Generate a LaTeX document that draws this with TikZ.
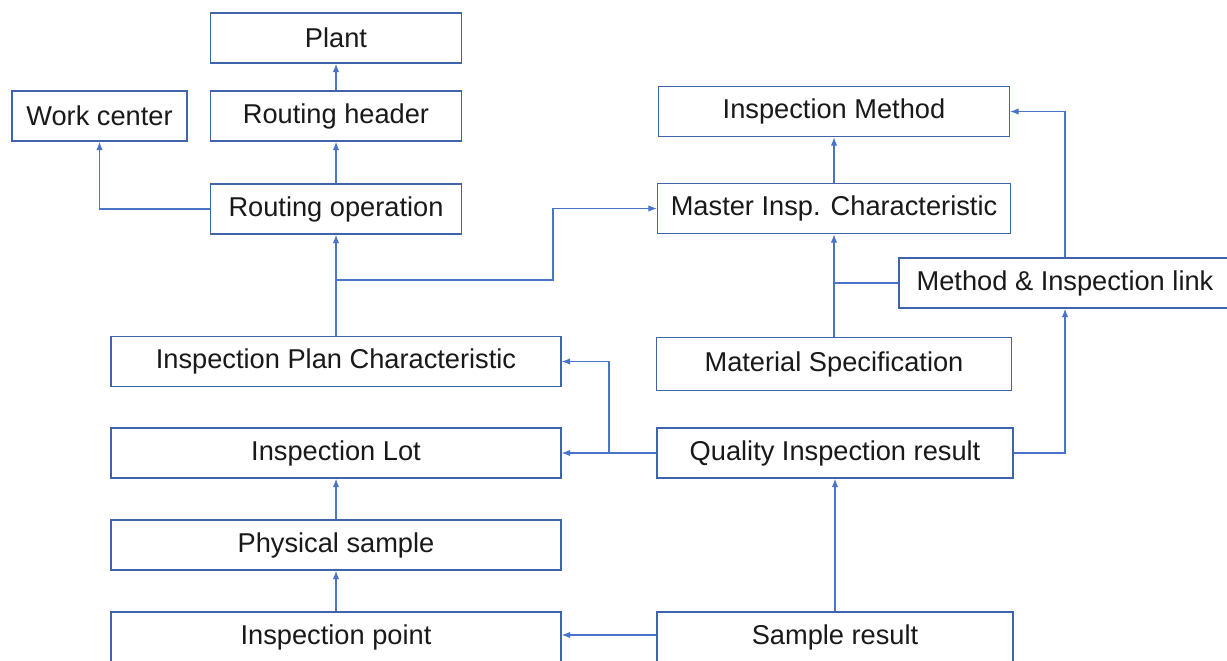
\documentclass[tikz,border=0pt]{standalone}
\usepackage{fontspec}
\setmainfont{Liberation Sans}
\usetikzlibrary{arrows.meta}
\definecolor{boxc}{HTML}{4064AC}
\definecolor{linec}{HTML}{4A74C8}
\begin{document}
\begin{tikzpicture}[x=0.02cm,y=-0.02cm,
  box/.style={draw=boxc, line width=0.8pt, fill=white, inner sep=0pt, minimum height=1.0cm,
     font=\fontsize{15.5}{18}\selectfont, text=black!90},
  arr/.style={draw=linec, line width=0.7pt, -{Latex[length=0.17cm,width=0.13cm]}},
  ln/.style={draw=linec, line width=0.7pt}]
\useasboundingbox (0,0) rectangle (1227,660);
\clip (0,0) rectangle (1227,660);
\fill[white] (0,0) rectangle (1227,660);
% nodes
\node[box, minimum width=5.02cm] (plant) at (336,38) {Plant};
\node[box, minimum width=3.5cm] (wc) at (99.5,116) {Work center};
\node[box, minimum width=5.02cm] (rh) at (336,116) {Routing header};
\node[box, minimum width=5.02cm] (ro) at (336,209) {Routing operation};
\node[box, minimum width=7.02cm] (im) at (834,111.5) {Inspection Method};
\node[box, minimum width=7.06cm] (mic) at (834,208.5) {Master Insp. Characteristic};
\node[box, minimum width=6.64cm] (mil) at (1065,283) {Method \& Inspection link};
\node[box, minimum width=7.1cm, minimum height=1.06cm] (ms) at (834,364) {Material Specification};
\node[box, minimum width=9.0cm] (ipc) at (336,361.5) {Inspection Plan Characteristic};
\node[box, minimum width=9.0cm] (il) at (336,453) {Inspection Lot};
\node[box, minimum width=7.12cm] (qir) at (835,453) {Quality Inspection result};
\node[box, minimum width=9.0cm] (ps) at (336,545) {Physical sample};
\node[box, minimum width=9.0cm] (ip) at (336,637) {Inspection point};
\node[box, minimum width=7.12cm] (sr) at (835,637) {Sample result};
% junction coordinates
\coordinate (j1) at (336,280);
\coordinate (j2) at (609,453);
% connectors
\draw[arr] (rh.north) -- (plant.south);
\draw[arr] (ro.north) -- (rh.south);
\draw[arr] (ro.west) -| (wc.south);
\draw[arr] (ipc.north) -- (ro.south);
\draw[arr] (j1) -- ++(217,0) |- (mic.west);
\draw[arr] (ms.north) -- (mic.south);
\draw[ln] (mil.west) -- (ms.north |- mil.west);
\draw[arr] (mil.north) |- (im.east);
\draw[arr] (mic.north) -- (im.south);
\draw[arr] (qir.west) -- (il.east);
\draw[arr] (j2) |- (ipc.east);
\draw[arr] (qir.east) -| (mil.south);
\draw[arr] (ps.north) -- (il.south);
\draw[arr] (ip.north) -- (ps.south);
\draw[arr] (sr.north) -- (qir.south);
\draw[arr] ([yshift=0.04cm]sr.west) -- ([yshift=0.04cm]ip.east);
\end{tikzpicture}
\end{document}
